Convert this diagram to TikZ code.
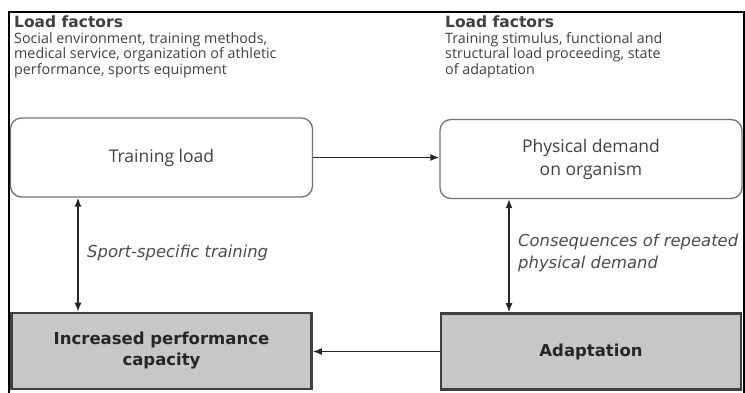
\documentclass[tikz,border=0pt]{standalone}
\usepackage{fontspec}
\setmainfont{Open Sans}
\newfontfamily\heavyfont{DejaVu Sans}
\usetikzlibrary{arrows.meta,positioning}

\begin{document}
\begin{tikzpicture}[
        x=1pt, y=-1pt,
        every node/.style={text=black!75, inner sep=0pt},
        factors/.style={anchor=north west, align=left, font=\fontsize{14.3}{15.5}\selectfont},
        loadbox/.style={draw=black!55, line width=1.3pt, rounded corners=11pt, minimum width=302pt, minimum height=79pt, align=center, font=\fontsize{17.5}{23}\selectfont},
        resultbox/.style={draw=black!75, fill=black!22, line width=2.6pt, minimum width=300pt, minimum height=76pt, align=center, text=black!85, font=\fontsize{16.5}{21}\heavyfont\bfseries},
        link/.style={draw=black!85, line width=1.4pt, -{Latex[length=9pt,width=7pt]}},
        twoway/.style={link, {Latex[length=9pt,width=7pt]}-{Latex[length=9pt,width=7pt]}},
        effect/.style={align=left, font=\fontsize{16.4}{21.5}\heavyfont\itshape, text=black!70}
    ]
    \useasboundingbox (0,0) rectangle (745,392);
    % frame
    \draw[line width=1.6pt] (9,393) -- (9,12) -- (744,12) -- (744,393);

    % load factors
    \node[factors] (social) at (14,16) {{\fontsize{15.5}{17}\heavyfont\bfseries Load factors}\\Social environment, training methods,\\medical service, organization of athletic\\performance, sports equipment};
    \node[factors] (stimulus) at (445,16) {{\fontsize{15.5}{17}\heavyfont\bfseries Load factors}\\Training stimulus, functional and\\structural load proceeding, state\\of adaptation};

    % boxes
    \node[loadbox] (load) at (161.5,157.5) {Training load};
    \node[loadbox] (demand) at (591,159) {Physical demand\\on organism};
    \node[resultbox] (gain) at (161.5,351) {Increased performance\\capacity};
    \node[resultbox] (adapt) at (591,351.5) {Adaptation};

    % connectors
    \draw[link] (load.east) -- (load.east -| demand.west);
    \draw[link] (adapt.west) -- (adapt.west -| gain.east);
    \draw[twoway] ([xshift=-83.5pt]load.south) -- ([xshift=-83.5pt]gain.north);
    \draw[twoway] ([xshift=-82pt]demand.south) -- ([xshift=-82pt]adapt.north);

    \node[effect, anchor=west] (sport) at (87,253) {Sport-specific training};
    \node[effect, anchor=north west] (repeat) at (518,234) {Consequences of repeated\\physical demand};
\end{tikzpicture}
\end{document}
